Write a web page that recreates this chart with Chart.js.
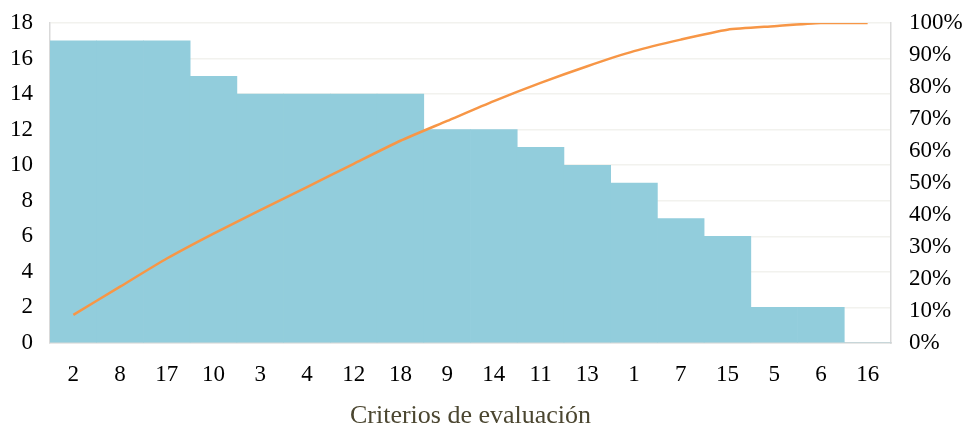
<!DOCTYPE html>
<html lang="es">
<head>
    <meta charset="UTF-8">
    <title>Criterios de evaluación</title>
    <script src="https://cdn.jsdelivr.net/npm/chart.js"></script>
    <style>
        body { margin: 0; background: #fff; }
        #wrap { width: 966px; height: 432px; }
    </style>
</head>
<body>
    <div id="wrap"><canvas id="chart"></canvas></div>

    <script>
        const categories = ['2', '8', '17', '10', '3', '4', '12', '18', '9', '14', '11', '13', '1', '7', '15', '5', '6', '16'];
        const counts = [17, 17, 17, 15, 14, 14, 14, 14, 12, 12, 11, 10, 9, 7, 6, 2, 2, 0];
        // cumulative share
        const cumulative = [0.088, 0.176, 0.264, 0.342, 0.415, 0.487, 0.560, 0.632, 0.694, 0.756, 0.813, 0.865, 0.912, 0.948, 0.979, 0.990, 1.0, 1.0];

        const serif = '"Liberation Serif", "DejaVu Serif", serif';
        const axisGray = '#D9D9D9';

        // tick padding also pads the top of vertical axes; drop that so the plot starts higher
        function fixSide(width) {
            return s => {
                s.width = width;
                s.paddingTop = 0;
                s.paddingBottom = 0;
            };
        }

        new Chart(document.getElementById('chart'), {
            data: {
                labels: categories,
                datasets: [
                    {
                        type: 'line',
                        data: cumulative,
                        yAxisID: 'y1',
                        borderColor: '#F79646',
                        borderWidth: 2.5,
                        pointRadius: 0,
                        tension: 0.2,
                        order: 1
                    },
                    {
                        type: 'bar',
                        data: counts,
                        yAxisID: 'y',
                        backgroundColor: '#92CDDC',
                        barPercentage: 1,
                        categoryPercentage: 1,
                        order: 2
                    }
                ]
            },
            options: {
                responsive: true,
                maintainAspectRatio: false,
                animation: false,
                layout: { padding: { top: 23, left: 0, right: 0, bottom: 0 } },
                plugins: { legend: { display: false }, tooltip: { enabled: false } },
                scales: {
                    x: {
                        offset: true,
                        grid: { display: false, drawTicks: false },
                        border: { color: axisGray, width: 1.5 },
                        ticks: { color: '#000', padding: 18, font: { family: serif, size: 23 }, maxRotation: 0 },
                        title: {
                            display: true,
                            text: 'Criterios de evaluación',
                            color: '#4B4630',
                            font: { family: serif, size: 26 },
                            padding: { top: 8, bottom: 0 }
                        },
                        afterFit: s => { s.height = 89; }
                    },
                    y: {
                        position: 'left',
                        min: 0,
                        max: 18,
                        ticks: { stepSize: 2, color: '#000', padding: 17, font: { family: serif, size: 23 } },
                        grid: { color: '#F2F2EE', lineWidth: 1.5, drawTicks: false },
                        border: { color: axisGray, width: 1.5 },
                        afterFit: fixSide(50)
                    },
                    y1: {
                        position: 'right',
                        min: 0,
                        max: 1,
                        ticks: {
                            stepSize: 0.1,
                            color: '#000',
                            padding: 18,
                            font: { family: serif, size: 23 },
                            callback: v => Math.round(v * 100) + '%'
                        },
                        grid: { display: false, drawTicks: false },
                        border: { color: axisGray, width: 1.5 },
                        afterFit: fixSide(75)
                    }
                }
            }
        });
    </script>
</body>
</html>
